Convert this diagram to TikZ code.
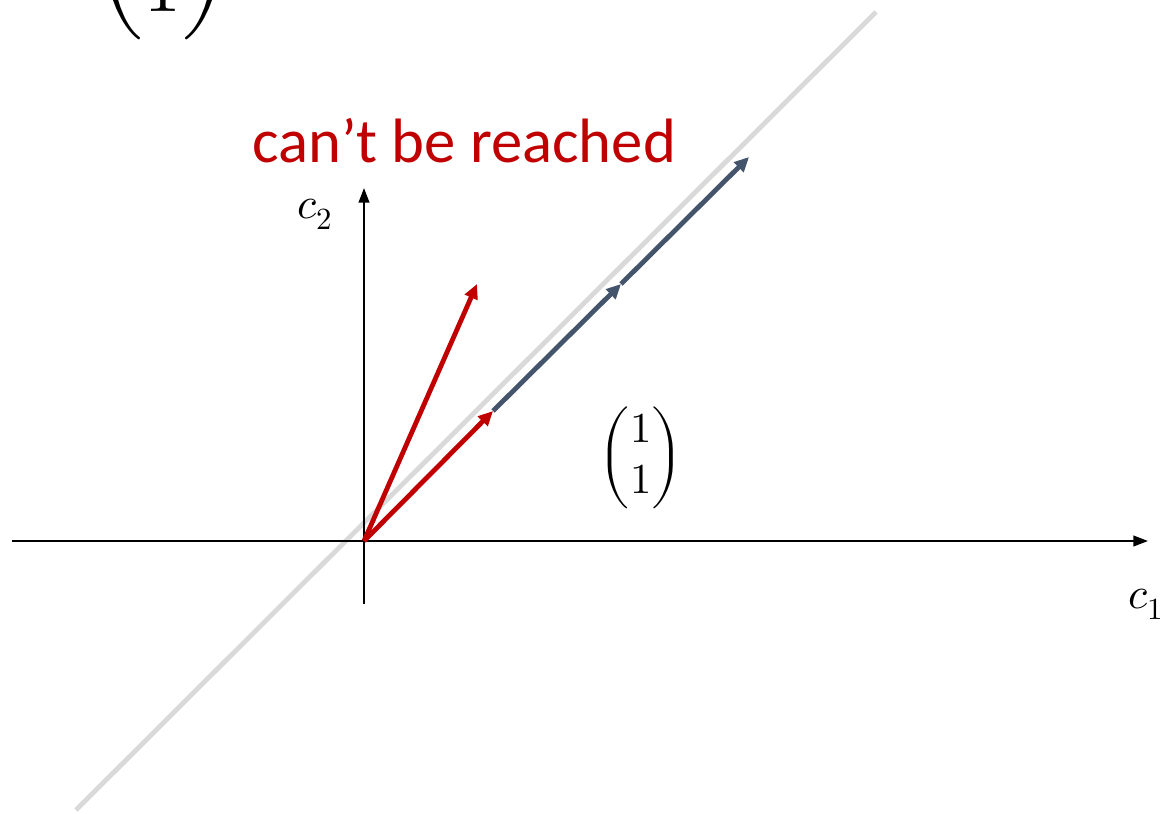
\documentclass[tikz,border=0pt]{standalone}
\usepackage{amsmath}
\usepackage{fontspec}
\usepackage{unicode-math}
\setmainfont{Carlito}
\usetikzlibrary{arrows.meta}
\definecolor{darkred}{RGB}{192,0,0}
\definecolor{slate}{RGB}{68,84,106}
\definecolor{lightline}{RGB}{217,217,217}
\begin{document}
\begin{tikzpicture}[x=0.75pt,y=-0.75pt,
  axis/.style={line width=1.5pt,-{Triangle[length=11pt,width=8pt]}},
  vec/.style={line width=3.6pt,-{Triangle[length=11pt,width=10pt]}},
  mathlbl/.style={inner sep=0pt,font=\fontsize{33}{39}\selectfont}]
\useasboundingbox (0,0) rectangle (1166,813);
\clip (0,0) rectangle (1166,813);
% points
\coordinate (O) at (364,541);
\coordinate (xl) at (12,541);
\coordinate (xr) at (1148,541);
\coordinate (yb) at (364,604);
\coordinate (yt) at (364,188);
\coordinate (gl) at (76,810);
\coordinate (gr) at (876,12);
\coordinate (r1) at (477,284);
\coordinate (r2) at (493,411);
\coordinate (d1) at (621,284);
\coordinate (d2) at (749,157);
% span line
\draw[lightline,line width=3.6pt] (gl) -- (gr);
% axes
\draw[axis] (xl) -- (xr);
\draw[axis] (yb) -- (yt);
% vectors
\draw[vec,darkred] (O) -- (r1);
\draw[vec,darkred] (O) -- (r2);
\draw[vec,slate] (r2) -- (d1);
\draw[vec,slate] (d1) -- (d2);
% labels
\node[mathlbl] (c1) at (1146,604) {$c_1$};
\node[mathlbl] (c2) at (315,214) {$c_2$};
\node[inner sep=0pt,font=\fontsize{32}{38}\selectfont] (m) at (641,458) {$\begin{pmatrix}1\\1\end{pmatrix}$};
\node[inner sep=0pt,font=\fontsize{55}{64}\selectfont,anchor=south] (mtop) at (163,40) {$\begin{pmatrix}1\\1\end{pmatrix}$};
\node[inner sep=0pt,anchor=base,text=darkred,font=\fontsize{47}{56}\selectfont] (txt) at (464,162) {can’t be reached};
\end{tikzpicture}
\end{document}
